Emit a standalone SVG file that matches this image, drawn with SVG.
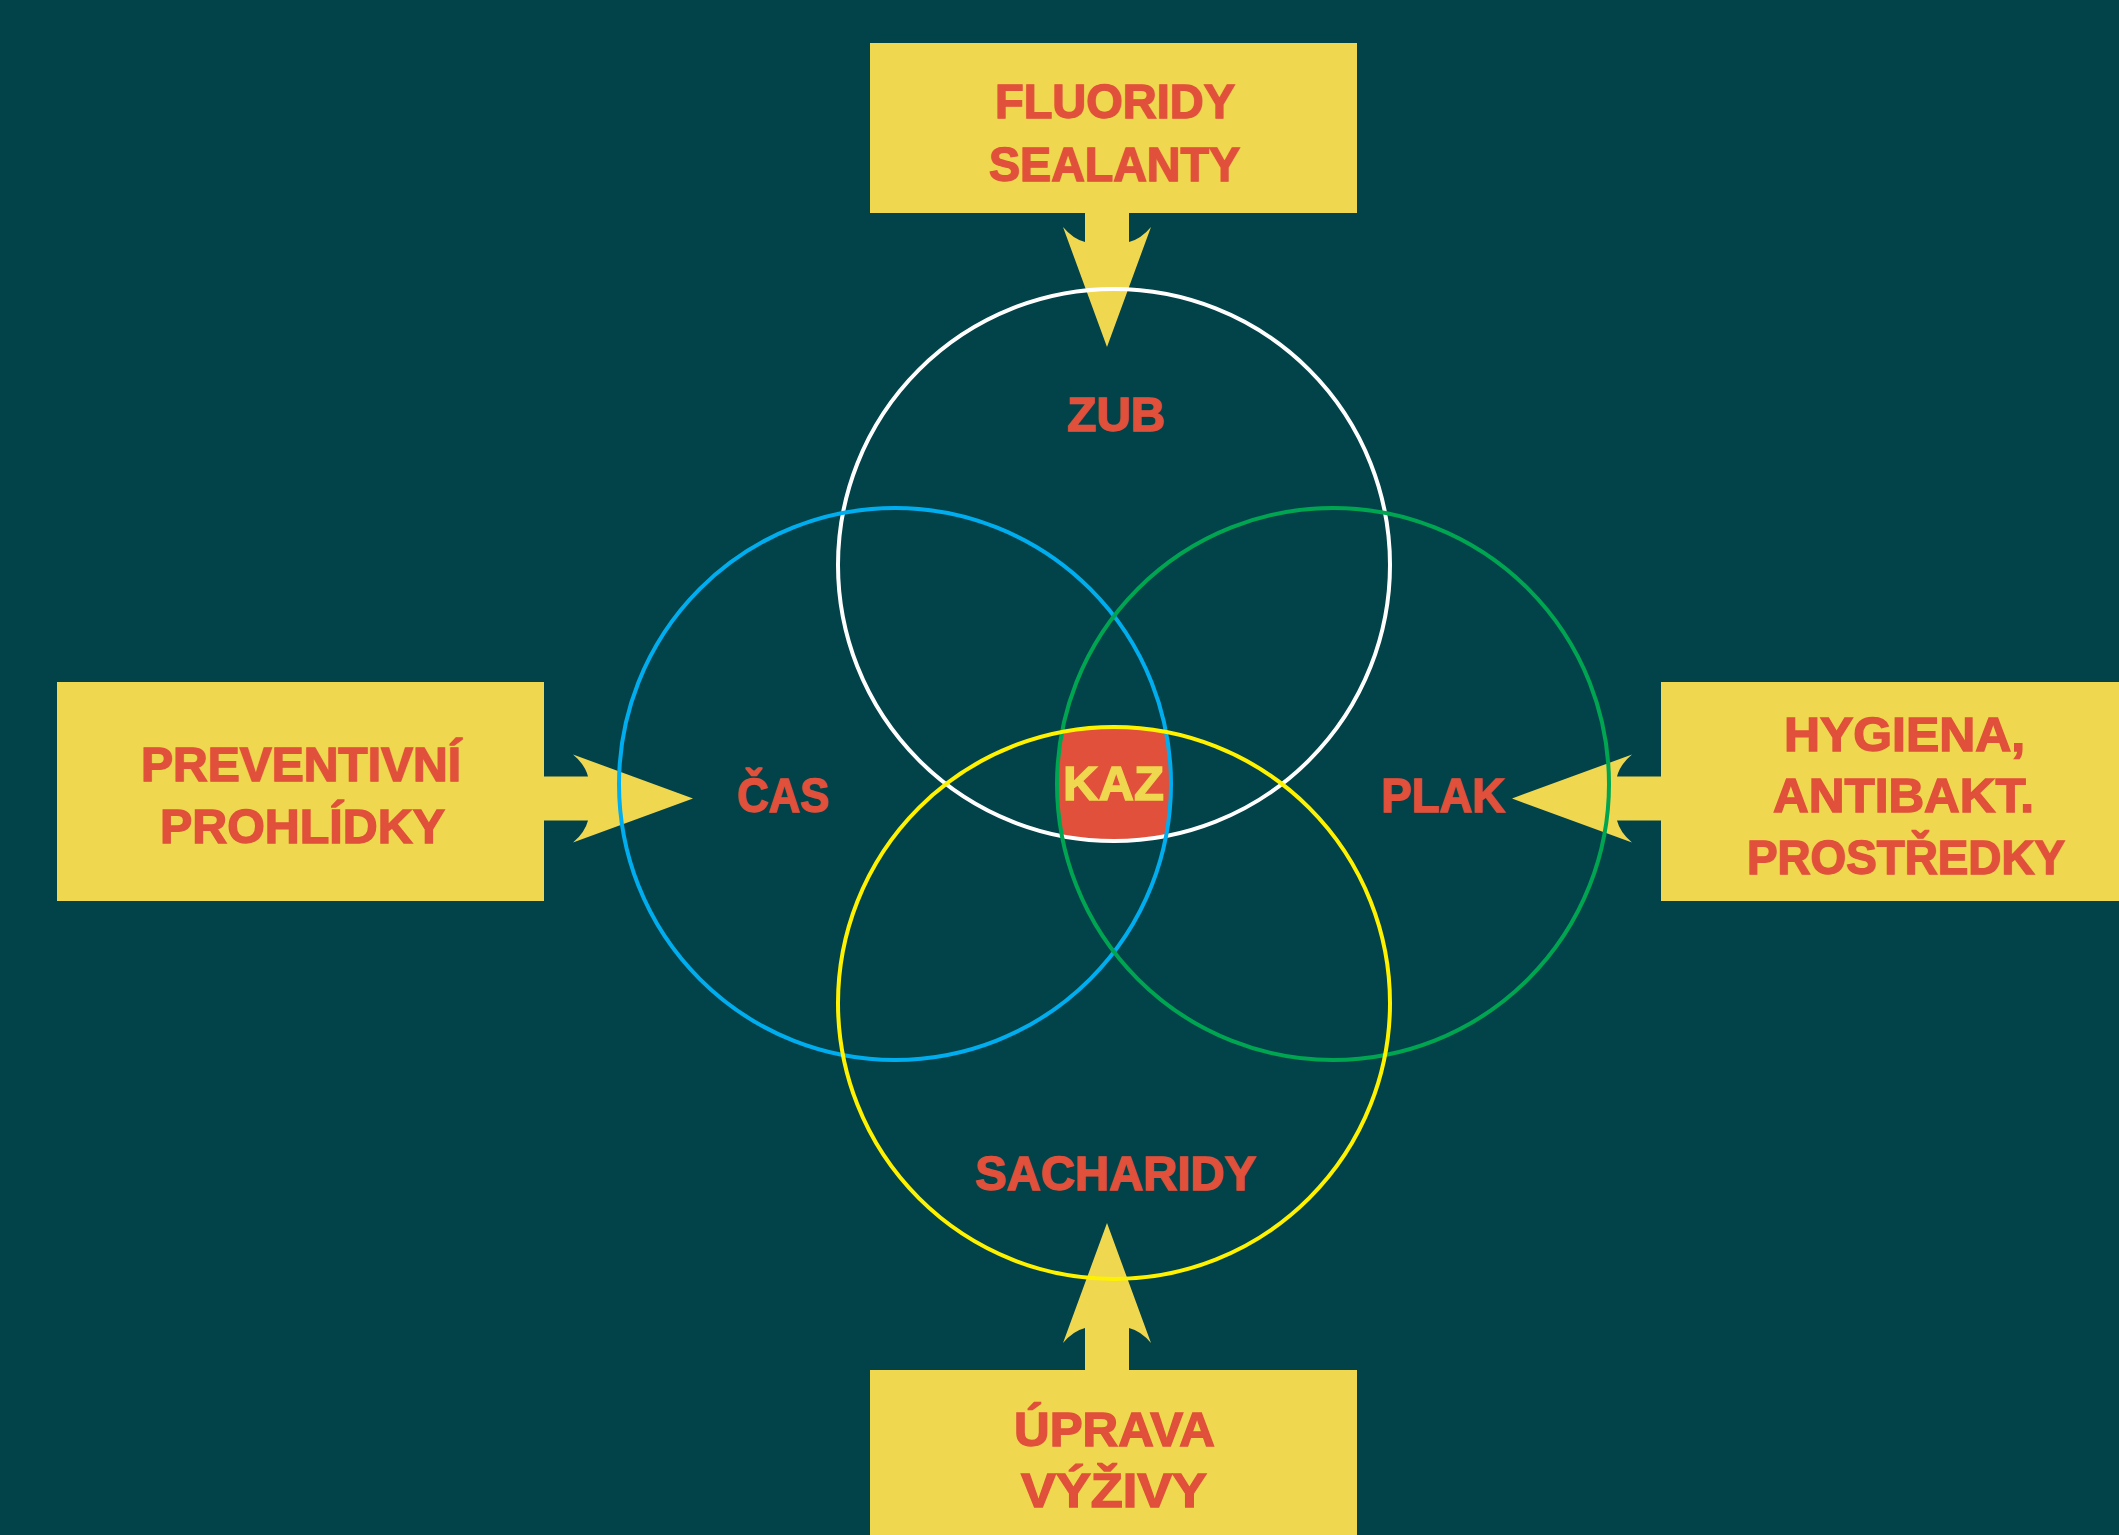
<svg xmlns="http://www.w3.org/2000/svg" xmlns:xlink="http://www.w3.org/1999/xlink" width="2119" height="1535" viewBox="0 0 2119 1535">
  <style>
    .box { fill: #EFD74F; }
    .lbl { font-family: "Liberation Sans", Arial, sans-serif; font-weight: bold; font-size: 48px; fill: #E0503A; stroke: #E0503A; stroke-width: 1.4; text-anchor: middle; }
    .kaz { font-family: "Liberation Sans", Arial, sans-serif; font-weight: bold; font-size: 48px; fill: #EFD74F; stroke: #EFD74F; stroke-width: 1.4; text-anchor: middle; }
    .ring { fill: none; stroke-width: 4; }
  </style>
  <defs>
    <path id="arrow" d="M0,0 L-120,-44 Q-108,-34 -105,-22 L-165,-22 L-165,22 L-105,22 Q-108,34 -120,44 Z" fill="#EFD74F"/>
  </defs>
  <rect x="0" y="0" width="2119" height="1535" fill="#02434A"/>

  <g id="connectors">
    <use xlink:href="#arrow" href="#arrow" transform="translate(1107,347) rotate(90)"/>
    <use xlink:href="#arrow" href="#arrow" transform="translate(1107,1223) rotate(-90)"/>
    <use xlink:href="#arrow" href="#arrow" transform="translate(693,798.5)"/>
    <use xlink:href="#arrow" href="#arrow" transform="translate(1512,798.5) rotate(180)"/>
  </g>

  <g id="box-top">
    <rect class="box" x="870" y="43" width="487" height="170"/>
    <text class="lbl" x="1115" y="118" textLength="240" lengthAdjust="spacingAndGlyphs">FLUORIDY</text>
    <text class="lbl" x="1114.5" y="181" textLength="251" lengthAdjust="spacingAndGlyphs">SEALANTY</text>
  </g>
  <g id="box-left">
    <rect class="box" x="57" y="682" width="487" height="219"/>
    <text class="lbl" x="301" y="781" textLength="320" lengthAdjust="spacingAndGlyphs">PREVENTIVNÍ</text>
    <text class="lbl" x="302.5" y="843" textLength="285" lengthAdjust="spacingAndGlyphs">PROHLÍDKY</text>
  </g>
  <g id="box-right">
    <rect class="box" x="1661" y="682" width="458" height="219"/>
    <text class="lbl" x="1904.5" y="751" textLength="241" lengthAdjust="spacingAndGlyphs">HYGIENA,</text>
    <text class="lbl" x="1903.5" y="812" textLength="261" lengthAdjust="spacingAndGlyphs">ANTIBAKT.</text>
    <text class="lbl" x="1906" y="874" textLength="318" lengthAdjust="spacingAndGlyphs">PROSTŘEDKY</text>
  </g>
  <g id="box-bottom">
    <rect class="box" x="870" y="1370" width="487" height="165"/>
    <text class="lbl" x="1114.5" y="1446" textLength="201" lengthAdjust="spacingAndGlyphs">ÚPRAVA</text>
    <text class="lbl" x="1114" y="1507" textLength="186" lengthAdjust="spacingAndGlyphs">VÝŽIVY</text>
  </g>

  <g id="kaz">
    <path d="M1062,732 A276,276 0 0,1 1166,732 A276,276 0 0,1 1166,836 A276,276 0 0,1 1062,836 A276,276 0 0,1 1062,732 Z" fill="#E0503A"/>
  </g>

  <g id="circle-zub">
    <circle class="ring" cx="1114" cy="565" r="276" stroke="#FFFFFF"/>
    <text class="lbl" x="1116" y="431" textLength="98" lengthAdjust="spacingAndGlyphs">ZUB</text>
  </g>
  <g id="circle-cas">
    <circle class="ring" cx="895" cy="784" r="276" stroke="#00AEEF"/>
    <text class="lbl" x="783" y="812" textLength="92" lengthAdjust="spacingAndGlyphs">ČAS</text>
  </g>
  <g id="circle-plak">
    <circle class="ring" cx="1333" cy="784" r="276" stroke="#00A551"/>
    <text class="lbl" x="1443" y="812" textLength="124" lengthAdjust="spacingAndGlyphs">PLAK</text>
  </g>
  <g id="circle-sacharidy">
    <circle class="ring" cx="1114" cy="1003" r="276" stroke="#FFF200"/>
    <text class="lbl" x="1115.5" y="1190" textLength="281" lengthAdjust="spacingAndGlyphs">SACHARIDY</text>
  </g>
  <g id="kaz-label">
    <text class="kaz" x="1113.5" y="800" textLength="101" lengthAdjust="spacingAndGlyphs">KAZ</text>
  </g>
</svg>
